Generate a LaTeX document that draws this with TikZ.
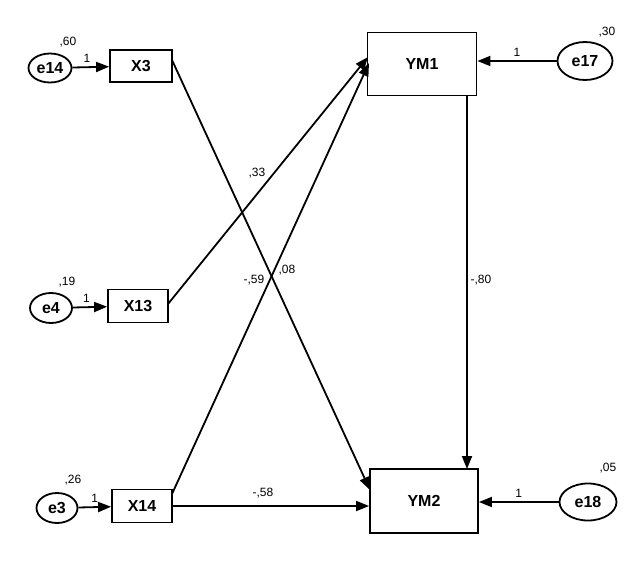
\documentclass[tikz,border=0pt]{standalone}
\usepackage{fontspec}
\setmainfont{Liberation Sans}
\usetikzlibrary{arrows.meta,shapes.geometric}
\begin{document}
\begin{tikzpicture}[x=1pt,y=-1pt,
  obs/.style={draw,line width=1.8pt,rectangle,inner sep=0pt,font=\fontsize{16}{16}\selectfont\bfseries},
  err/.style={draw,line width=1.8pt,ellipse,inner sep=0pt,font=\fontsize{16}{16}\selectfont\bfseries},
  lbl/.style={font=\fontsize{12}{12}\selectfont,inner sep=0pt},
  path/.style={line width=1.8pt,-{Triangle[length=13pt,width=10pt]}}]
\useasboundingbox (0,0) rectangle (641,563);
% observed variables
\node[obs,minimum width=62pt,minimum height=32pt] (X3) at (141,66) {X3};
\node[obs,minimum width=60pt,minimum height=33pt] (X13) at (138,306) {X13};
\node[obs,minimum width=60pt,minimum height=33pt] (X14) at (142,506) {X14};
\node[obs,minimum width=109pt,minimum height=63pt] (YM1) at (422,64) {YM1};
\node[obs,minimum width=108pt,minimum height=64pt] (YM2) at (424,501) {YM2};
% errors
\node[err,minimum width=43pt,minimum height=29pt] (e14) at (50,68) {e14};
\node[err,minimum width=42pt,minimum height=30pt] (e4) at (51,308) {e4};
\node[err,minimum width=41pt,minimum height=30pt] (e3) at (57,508) {e3};
\node[err,minimum width=55pt,minimum height=38pt] (e17) at (585,61) {e17};
\node[err,minimum width=57pt,minimum height=37pt] (e18) at (588,502) {e18};
% variance labels
\node[lbl] (v14) at (68,42) {,60};
\node[lbl] (v4) at (67,282) {,19};
\node[lbl] (v3) at (73,480) {,26};
\node[lbl] (v17) at (607,32) {,30};
\node[lbl] (v18) at (608,468) {,05};
% error paths
\draw[path] (e14) -- (X3) node[lbl,pos=0.4,above=4pt] (l1) {1};
\draw[path] (e4) -- (X13) node[lbl,pos=0.4,above=4pt] (l2) {1};
\draw[path] (e3) -- (X14) node[lbl,pos=0.5,above=4pt] (l3) {1};
\draw[path] (e17) -- (e17 -| YM1.east) node[lbl,pos=0.5,above=4pt] (l4) {1};
\draw[path] (e18) -- (e18 -| YM2.east) node[lbl,pos=0.5,above=4pt] (l5) {1};
% structural paths
\coordinate (x3s) at (172,60);
\coordinate (ym2a) at (370,490);
\coordinate (x13s) at (168,304);
\coordinate (ym1a) at (368,57);
\coordinate (x14s) at (172,494);
\coordinate (ym1b) at (369,63);
\draw[path] (x3s) -- (ym2a);
\draw[path] (x13s) -- (ym1a);
\draw[path] (x14s) -- (ym1b);
\draw[path] (X14.east) -- (X14.east -| YM2.west);
\coordinate (ym1d) at (467,96);
\coordinate (ym2t) at (467,469);
\draw[path] (ym1d) -- (ym2t);
% coefficient labels
\node[lbl] (c33) at (257,173) {,33};
\node[lbl] (c59) at (254,280) {-,59};
\node[lbl] (c08) at (287,270) {,08};
\node[lbl] (c58) at (263,493) {-,58};
\node[lbl] (c80) at (481,280) {-,80};
\end{tikzpicture}
\end{document}
